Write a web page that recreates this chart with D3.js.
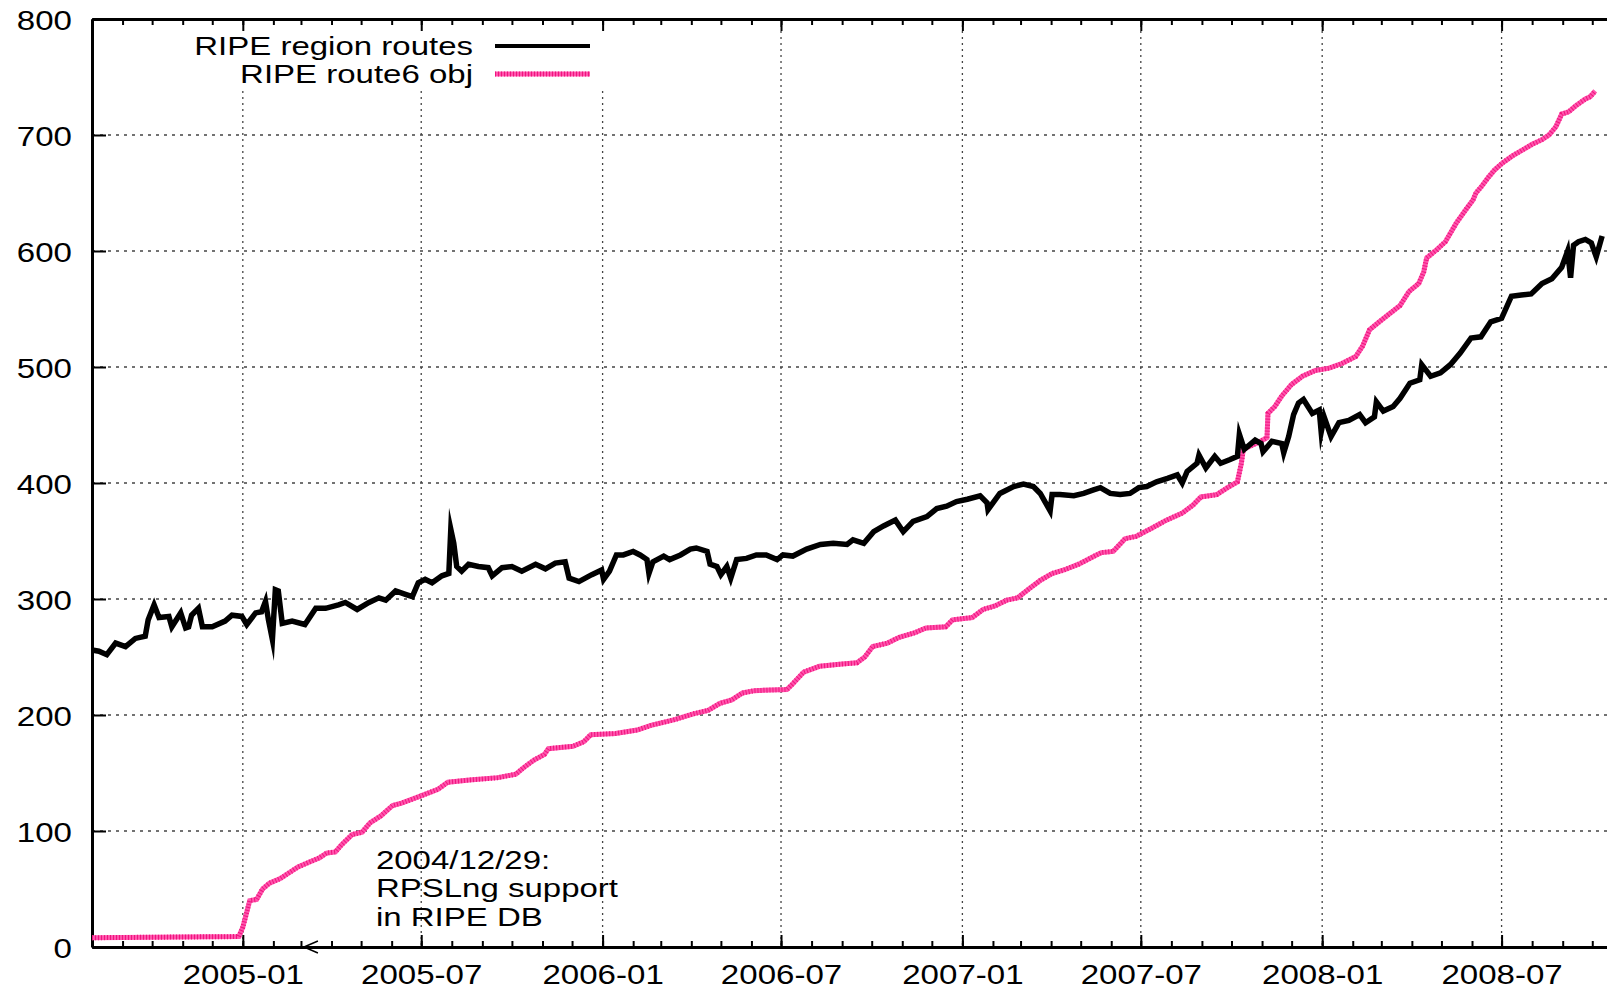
<!DOCTYPE html>
<html>
<head>
<meta charset="utf-8">
<script src="https://cdnjs.cloudflare.com/ajax/libs/d3/7.8.5/d3.min.js"></script>
<style>
body { margin: 0; background: #fff; }
svg text { font-family: "Liberation Sans", Arial, sans-serif; font-size: 28.5px; fill: #000; }
svg text.small { font-size: 25px; }
</style>
</head>
<body>
<div id="chart"></div>
<script>
// RIPE region routes (black)
var routesDates = [
  "2004-08-01","2004-08-08","2004-08-16","2004-08-25","2004-09-04","2004-09-14","2004-09-24","2004-09-27",
  "2004-10-03","2004-10-08","2004-10-18","2004-10-21","2004-10-30","2004-11-04","2004-11-07","2004-11-10",
  "2004-11-17","2004-11-21","2004-12-01","2004-12-14","2004-12-21","2004-12-31","2005-01-05","2005-01-14",
  "2005-01-20","2005-01-24","2005-01-27","2005-01-31","2005-02-03","2005-02-06","2005-02-10","2005-02-20",
  "2005-03-05","2005-03-16","2005-03-26","2005-04-08","2005-04-15","2005-04-27","2005-05-09","2005-05-19",
  "2005-05-26","2005-06-05","2005-06-15","2005-06-22","2005-06-28","2005-07-05","2005-07-12","2005-07-22",
  "2005-07-29","2005-07-31","2005-08-03","2005-08-06","2005-08-11","2005-08-18","2005-08-28","2005-09-07",
  "2005-09-11","2005-09-21","2005-10-01","2005-10-11","2005-10-25","2005-11-04","2005-11-14","2005-11-24",
  "2005-11-28","2005-12-08","2005-12-21","2005-12-31","2006-01-02","2006-01-08","2006-01-15","2006-01-22",
  "2006-02-01","2006-02-08","2006-02-15","2006-02-17","2006-02-21","2006-03-04","2006-03-10","2006-03-21",
  "2006-03-31","2006-04-06","2006-04-17","2006-04-20","2006-04-27","2006-05-01","2006-05-07","2006-05-11",
  "2006-05-17","2006-05-27","2006-06-06","2006-06-16","2006-06-27","2006-07-03","2006-07-13","2006-07-27",
  "2006-08-10","2006-08-23","2006-09-06","2006-09-12","2006-09-23","2006-10-03","2006-10-13","2006-10-25",
  "2006-11-02","2006-11-12","2006-11-26","2006-12-06","2006-12-16","2006-12-26","2007-01-06","2007-01-19",
  "2007-01-26","2007-01-27","2007-02-08","2007-02-22","2007-03-04","2007-03-14","2007-03-21","2007-03-31",
  "2007-04-02","2007-04-10","2007-04-24","2007-05-04","2007-05-14","2007-05-21","2007-05-31","2007-06-10",
  "2007-06-20","2007-06-29","2007-07-07","2007-07-17","2007-07-28","2007-08-07","2007-08-12","2007-08-17",
  "2007-08-27","2007-08-29","2007-09-05","2007-09-14","2007-09-20","2007-09-29","2007-10-07","2007-10-09",
  "2007-10-14","2007-10-25","2007-10-31","2007-11-02","2007-11-11","2007-11-21","2007-11-23","2007-11-28",
  "2007-12-03","2007-12-08","2007-12-13","2007-12-22","2007-12-29","2007-12-31","2008-01-03","2008-01-10",
  "2008-01-18","2008-01-28","2008-02-08","2008-02-14","2008-02-23","2008-02-25","2008-03-03","2008-03-13",
  "2008-03-20","2008-03-30","2008-04-09","2008-04-11","2008-04-20","2008-04-30","2008-05-10","2008-05-20",
  "2008-05-31","2008-06-10","2008-06-20","2008-07-01","2008-07-11","2008-07-21","2008-07-31","2008-08-11",
  "2008-08-21","2008-08-31","2008-09-06","2008-09-09","2008-09-12","2008-09-17","2008-09-24","2008-09-30",
  "2008-10-05","2008-10-11"
];
var routesValues = [
  256,255,252,262,259,266,268,282,
  295,284,285,276,288,275,276,286,
  292,276,276,281,286,285,278,288,
  289,298,282,265,308,307,279,281,
  278,292,292,295,297,291,297,301,
  299,307,304,302,314,317,314,320,
  322,360,348,328,324,330,328,327,
  320,327,328,324,330,326,331,332,
  318,315,321,325,317,324,338,338,
  341,338,334,322,332,337,334,338,
  343,344,341,330,328,321,328,318,
  334,335,338,338,334,338,337,343,
  347,348,347,351,348,358,363,368,
  358,367,371,378,380,384,386,389,
  383,377,391,397,399,397,391,376,
  390,390,389,391,394,396,391,390,
  391,396,397,401,404,407,400,410,
  417,424,413,423,417,420,423,442,
  429,437,434,427,436,434,426,440,
  459,469,472,460,463,444,457,440,
  452,454,459,452,457,470,462,466,
  473,486,489,502,492,495,502,512,
  525,526,539,542,561,562,563,572,
  576,586,600,577,605,608,610,607,
  595,613
];

// RIPE route6 obj (pink)
var route6Dates = [
  "2004-08-01","2004-12-28","2005-01-01","2005-01-05","2005-01-08","2005-01-15","2005-01-21","2005-01-28",
  "2005-02-08","2005-02-17","2005-02-26","2005-03-09","2005-03-20","2005-03-27","2005-04-05","2005-04-11",
  "2005-04-22","2005-05-02","2005-05-10","2005-05-21","2005-06-02","2005-06-11","2005-06-30","2005-07-18",
  "2005-07-28","2005-08-19","2005-09-17","2005-10-05","2005-10-12","2005-10-23","2005-11-03","2005-11-07",
  "2005-12-02","2005-12-13","2005-12-20","2006-01-14","2006-02-05","2006-02-19","2006-03-15","2006-04-03",
  "2006-04-18","2006-04-30","2006-05-12","2006-05-23","2006-06-04","2006-07-07","2006-07-13","2006-07-24",
  "2006-08-09","2006-09-01","2006-09-16","2006-09-24","2006-10-02","2006-10-17","2006-10-29","2006-11-14",
  "2006-11-25","2006-12-15","2006-12-22","2007-01-11","2007-01-22","2007-02-03","2007-02-15","2007-02-26",
  "2007-03-10","2007-03-21","2007-04-02","2007-04-14","2007-04-29","2007-05-15","2007-05-22","2007-06-03",
  "2007-06-15","2007-06-26","2007-07-12","2007-07-27","2007-08-12","2007-08-23","2007-08-31","2007-09-16",
  "2007-09-27","2007-10-07","2007-10-11","2007-10-13","2007-10-18","2007-10-28","2007-11-06","2007-11-07",
  "2007-11-14","2007-11-21","2007-12-01","2007-12-12","2007-12-25","2008-01-08","2008-01-21","2008-02-04",
  "2008-02-11","2008-02-18","2008-02-28","2008-03-08","2008-03-20","2008-03-29","2008-04-08","2008-04-13",
  "2008-04-16","2008-04-26","2008-05-05","2008-05-16","2008-05-26","2008-06-02","2008-06-05","2008-06-11",
  "2008-06-18","2008-06-24","2008-07-02","2008-07-12","2008-07-22","2008-08-01","2008-08-11","2008-08-18",
  "2008-08-25","2008-08-31","2008-09-07","2008-09-14","2008-09-24","2008-09-29","2008-10-04"
];
var route6Values = [
  8,9,17,30,40,41,50,55,
  59,64,69,73,77,81,82,88,
  97,99,107,113,122,124,130,136,
  142,144,146,149,154,161,166,171,
  173,177,183,184,187,191,196,201,
  204,210,213,219,221,222,227,237,
  242,244,245,250,259,262,267,271,
  275,276,282,284,291,294,299,301,
  309,316,322,325,330,337,340,341,
  352,354,361,368,374,381,388,390,
  396,401,417,429,431,435,439,460,
  466,475,485,492,497,499,503,509,
  518,532,539,545,553,565,572,582,
  594,601,608,624,636,644,650,656,
  664,670,676,682,687,692,696,700,
  707,718,720,725,731,733,738
];

var yTicks = [0, 100, 200, 300, 400, 500, 600, 700, 800];
var legendLabels = ["RIPE region routes", "RIPE route6 obj"];
var noteLines = ["2004/12/29:", "RPSLng support", "in RIPE DB"];
var noteArrow = { from: "2005-05-15", to: "2005-03-04", value: 0 };

var parse = d3.utcParse("%Y-%m-%d");
var w = 1607, h = 992;
var sx = 1.16;   // text is a bit wider than tall in the original
var sxSmall = 1.32; // stacked labels: smaller font, same width

var svg = d3.select("#chart").append("svg")
    .attr("width", w)
    .attr("height", h);

var x = d3.scaleUtc()
    .domain([parse("2004-08-01"), parse("2008-10-20")])
    .range([92, 1611]);
var y = d3.scaleLinear()
    .domain([0, 800])
    .range([947, 19]);

var majorTicks = x.ticks(d3.utcMonth.every(6));

// grid
var grid = svg.append("g")
    .attr("stroke", "#444")
    .attr("stroke-width", 1.3);
grid.selectAll("line.gx")
    .data(majorTicks)
    .enter()
    .append("line")
    .attr("class", "gx")
    .attr("x1", function(d) { return x(d); })
    .attr("x2", function(d) { return x(d); })
    .attr("y1", y(800))
    .attr("y2", y(0))
    .attr("stroke-dasharray", "2,4");
grid.selectAll("line.gy")
    .data(yTicks.slice(1, -1))
    .enter()
    .append("line")
    .attr("class", "gy")
    .attr("x1", x.range()[0])
    .attr("x2", x.range()[1])
    .attr("y1", function(d) { return y(d); })
    .attr("y2", function(d) { return y(d); })
    .attr("stroke-dasharray", "3,5");

// key area blanks the grid
svg.append("rect")
    .attr("x", 94)
    .attr("y", 21)
    .attr("width", 526)
    .attr("height", 69)
    .attr("fill", "#fff");

// axes
function styleAxis(g) {
    g.select(".domain").attr("stroke", "#000").attr("stroke-width", 3);
    g.selectAll(".tick line").attr("stroke", "#000").attr("stroke-width", 2);
}

svg.append("g")
    .attr("transform", "translate(0," + y(0) + ")")
    .call(d3.axisBottom(x).ticks(d3.utcMonth.every(1)).tickSize(-6).tickSizeOuter(0).tickFormat(""))
    .call(styleAxis);
var xAxis = svg.append("g")
    .attr("transform", "translate(0," + y(0) + ")")
    .call(d3.axisBottom(x).ticks(d3.utcMonth.every(6)).tickSize(-12).tickSizeOuter(0)
        .tickFormat(d3.utcFormat("%Y-%m")))
    .call(styleAxis);
xAxis.selectAll("text")
    .attr("y", 0)
    .attr("dy", null)
    .attr("font-size", null)
    .attr("font-family", null)
    .attr("transform", "translate(0,37) scale(" + sx + ",1)");

svg.append("g")
    .attr("transform", "translate(0," + y(800) + ")")
    .call(d3.axisTop(x).ticks(d3.utcMonth.every(1)).tickSize(-6).tickSizeOuter(0).tickFormat(""))
    .call(styleAxis);
svg.append("g")
    .attr("transform", "translate(0," + y(800) + ")")
    .call(d3.axisTop(x).ticks(d3.utcMonth.every(6)).tickSize(-12).tickSizeOuter(0).tickFormat(""))
    .call(styleAxis);

var yAxis = svg.append("g")
    .attr("transform", "translate(" + x.range()[0] + ",0)")
    .call(d3.axisLeft(y).tickValues(yTicks).tickSize(-14).tickSizeOuter(0))
    .call(styleAxis);
yAxis.selectAll("text")
    .attr("x", 0)
    .attr("dy", null)
    .attr("font-size", null)
    .attr("font-family", null)
    .attr("transform", "translate(-20,10) scale(" + sx + ",1)");

// right border (just outside the window)
svg.append("line")
    .attr("x1", x.range()[1]).attr("x2", x.range()[1])
    .attr("y1", y(0)).attr("y2", y(800))
    .attr("stroke", "#000").attr("stroke-width", 3);

// series
var routes = routesDates.map(function(d, i) { return { date: parse(d), value: routesValues[i] }; });
var route6 = route6Dates.map(function(d, i) { return { date: parse(d), value: route6Values[i] }; });

var line = d3.line()
    .x(function(d) { return x(d.date); })
    .y(function(d) { return y(d.value); });

svg.append("path")
    .datum(route6)
    .attr("d", line)
    .attr("fill", "none")
    .attr("stroke", "#ff55ad")
    .attr("stroke-width", 5);
svg.append("path")
    .datum(route6)
    .attr("d", line)
    .attr("fill", "none")
    .attr("stroke", "#f0147e")
    .attr("stroke-width", 5)
    .attr("stroke-dasharray", "1,2");

svg.append("path")
    .datum(routes)
    .attr("d", line)
    .attr("fill", "none")
    .attr("stroke", "#000")
    .attr("stroke-width", 5.5)
    .attr("stroke-linejoin", "miter")
    .attr("stroke-miterlimit", 8);

// legend
svg.append("g").selectAll("text")
    .data(legendLabels)
    .enter()
    .append("text")
    .attr("class", "small")
    .attr("text-anchor", "end")
    .attr("transform", function(d, i) { return "translate(473," + (55 + i * 28) + ") scale(" + sxSmall + ",1)"; })
    .text(function(d) { return d; });
svg.append("line")
    .attr("x1", 495).attr("x2", 590).attr("y1", 46).attr("y2", 46)
    .attr("stroke", "#000").attr("stroke-width", 4);
svg.append("line")
    .attr("x1", 495).attr("x2", 590).attr("y1", 74).attr("y2", 74)
    .attr("stroke", "#ff55ad").attr("stroke-width", 5);
svg.append("line")
    .attr("x1", 495).attr("x2", 590).attr("y1", 74).attr("y2", 74)
    .attr("stroke", "#f0147e").attr("stroke-width", 5).attr("stroke-dasharray", "1,2");

// annotation
var ax1 = x(parse(noteArrow.from)), ax2 = x(parse(noteArrow.to)), ay = y(noteArrow.value);
svg.append("line")
    .attr("x1", ax1).attr("x2", ax2).attr("y1", ay).attr("y2", ay)
    .attr("stroke", "#000").attr("stroke-width", 1.5).attr("stroke-dasharray", "6,4");
svg.append("path")
    .attr("d", "M" + (ax2 + 14) + "," + (ay - 6) + "L" + ax2 + "," + ay + "L" + (ax2 + 14) + "," + (ay + 6))
    .attr("fill", "none").attr("stroke", "#000").attr("stroke-width", 1.5);

svg.append("g").selectAll("text")
    .data(noteLines)
    .enter()
    .append("text")
    .attr("class", "small")
    .attr("transform", function(d, i) { return "translate(" + (ax1 + 1) + "," + (ay - 78 + i * 28.4) + ") scale(" + sxSmall + ",1)"; })
    .text(function(d) { return d; });
</script>
</body>
</html>
